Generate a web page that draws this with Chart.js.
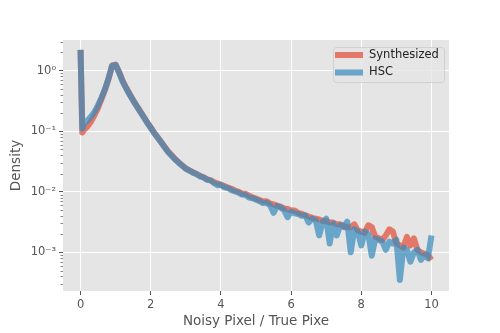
<!DOCTYPE html>
<html>
<head>
<meta charset="utf-8">
<script src="https://cdn.jsdelivr.net/npm/chart.js@4"></script>
<style>
  html, body { margin: 0; background: #fff; }
</style>
</head>
<body>
<canvas id="chart" width="500" height="333"></canvas>
<script>
// Bin centres (Noisy Pixel / True Pixel)
const xValues = [
  0.0, 0.05, 0.1, 0.2, 0.3, 0.4, 0.5, 0.6, 0.7, 0.8, 0.9,
  1.0, 1.1, 1.2, 1.3, 1.4, 1.5, 1.6, 1.7, 1.8, 1.9,
  2.0, 2.1, 2.2, 2.3, 2.4, 2.5, 2.6, 2.7, 2.8, 2.9,
  3.0, 3.1, 3.2, 3.3, 3.4, 3.5, 3.6, 3.7, 3.8, 3.9,
  4.0, 4.1, 4.2, 4.3, 4.4, 4.5, 4.6, 4.7, 4.8, 4.9,
  5.0, 5.1, 5.2, 5.3, 5.4, 5.5, 5.6, 5.7, 5.8, 5.9,
  6.0, 6.1, 6.2, 6.3, 6.4, 6.5, 6.6, 6.7, 6.8, 6.9,
  7.0, 7.1, 7.2, 7.3, 7.4, 7.5, 7.6, 7.7, 7.8, 7.9,
  8.0, 8.1, 8.2, 8.3, 8.4, 8.5, 8.6, 8.7, 8.8, 8.9,
  9.0, 9.1, 9.2, 9.3, 9.4, 9.5, 9.6, 9.7, 9.8, 9.9,
  10.0
];

const synthesized = [
  2.2, 0.095, 0.105, 0.12, 0.145, 0.185, 0.245, 0.345, 0.49, 0.74, 1.2,
  1.26, 0.95, 0.68, 0.52, 0.41, 0.325, 0.262, 0.212, 0.172, 0.14,
  0.115, 0.094, 0.079, 0.066, 0.055, 0.046, 0.040, 0.0345, 0.0305, 0.0272,
  0.0243, 0.0226, 0.0210, 0.0198, 0.0184, 0.0175, 0.0162, 0.0155, 0.0144, 0.0138,
  0.0130, 0.0124, 0.0117, 0.0112, 0.0105, 0.0100, 0.0094, 0.0093, 0.0086, 0.0081,
  0.0077, 0.0073, 0.0069, 0.0070, 0.0064, 0.0062, 0.0059, 0.0057, 0.0053, 0.0052,
  0.0049, 0.0049, 0.0045, 0.0043, 0.0041, 0.0039, 0.0037, 0.0036, 0.0035, 0.0033,
  0.0033, 0.0031, 0.0031, 0.0029, 0.0029, 0.0027, 0.0026, 0.0026, 0.0029, 0.0023,
  0.0022, 0.0021, 0.0028, 0.0026, 0.0018, 0.0017, 0.0016, 0.0019, 0.0024, 0.0022,
  0.0014, 0.0013, 0.0012, 0.0018, 0.0013, 0.0017, 0.0011, 0.0010, 0.00095, 0.0009,
  0.00075
];

const hsc = [
  2.2, 0.11, 0.135, 0.15, 0.175, 0.21, 0.27, 0.36, 0.50, 0.75, 1.22,
  1.24, 0.92, 0.66, 0.51, 0.40, 0.32, 0.26, 0.21, 0.17, 0.138,
  0.114, 0.093, 0.078, 0.065, 0.054, 0.045, 0.039, 0.034, 0.030, 0.0268,
  0.0240, 0.0224, 0.0207, 0.0196, 0.0180, 0.0172, 0.0158, 0.0154, 0.0140, 0.0128,
  0.0130, 0.0118, 0.0116, 0.0106, 0.0101, 0.0097, 0.0090, 0.0088, 0.0080, 0.0078,
  0.0074, 0.0070, 0.0065, 0.0066, 0.0060, 0.0045, 0.0058, 0.0055, 0.0050, 0.0038,
  0.0047, 0.0044, 0.0043, 0.0040, 0.0041, 0.0031, 0.0036, 0.0034, 0.0019, 0.0032,
  0.0036, 0.0014, 0.0030, 0.0019, 0.0028, 0.0026, 0.0032, 0.0010, 0.0024, 0.0022,
  0.0013, 0.0022, 0.0020, 0.00088, 0.0017, 0.0016, 0.0015, 0.0011, 0.0015, 0.0014,
  0.0016, 0.00035, 0.0012, 0.0011, 0.0007, 0.0010, 0.0011, 0.00075, 0.0009, 0.0008,
  0.0019
];

const xTicks = [0, 2, 4, 6, 8, 10];
const yTicks = [1e-3, 1e-2, 1e-1, 1];
const yTickLabels = ['10⁻³', '10⁻²', '10⁻¹', '10⁰'];
const seriesNames = ['Synthesized', 'HSC'];

const FONT = 'DejaVu Sans';
const RED = 'rgba(226, 74, 51, 0.7)';
const BLUE = 'rgba(52, 138, 189, 0.7)';

// gray panel behind the grid
const panelBg = {
  id: 'panelBg',
  beforeDraw(chart) {
    const { ctx, chartArea: a } = chart;
    ctx.save();
    ctx.fillStyle = '#E5E5E5';
    ctx.fillRect(a.left, a.top, a.right - a.left, a.bottom - a.top);
    ctx.restore();
  }
};

// small log minor ticks on the y axis
const minorTicks = {
  id: 'minorTicks',
  afterDraw(chart) {
    const y = chart.scales.y;
    const ctx = chart.ctx;
    const left = chart.chartArea.left;
    ctx.save();
    ctx.strokeStyle = '#555';
    ctx.lineWidth = 0.7;
    for (let d = -4; d <= 0; d++) {
      for (let k = 2; k <= 9; k++) {
        const v = k * Math.pow(10, d);
        if (v < y.min || v > y.max) continue;
        const p = Math.round(y.getPixelForValue(v)) + 0.5;
        ctx.beginPath();
        ctx.moveTo(left - 2.5, p);
        ctx.lineTo(left, p);
        ctx.stroke();
      }
    }
    ctx.restore();
  }
};

// matplotlib-style legend in the upper right of the panel
const insetLegend = {
  id: 'insetLegend',
  afterDraw(chart) {
    const { ctx, chartArea: a } = chart;
    const w = 111, h = 35;
    const x0 = a.right - 5 - w, y0 = a.top + 7;
    ctx.save();
    ctx.fillStyle = 'rgba(229, 229, 229, 0.8)';
    ctx.strokeStyle = 'rgba(204, 204, 204, 0.8)';
    ctx.lineWidth = 1;
    ctx.beginPath();
    ctx.roundRect(x0 + 0.5, y0 + 0.5, w, h, 3);
    ctx.fill();
    ctx.stroke();
    const colors = [RED, BLUE];
    ctx.font = '11.5px "' + FONT + '"';
    ctx.textBaseline = 'middle';
    seriesNames.forEach((name, i) => {
      const ry = y0 + 8 + i * 17.5;
      ctx.strokeStyle = colors[i];
      ctx.lineWidth = 6;
      ctx.beginPath();
      ctx.moveTo(x0 + 2, ry);
      ctx.lineTo(x0 + 30, ry);
      ctx.stroke();
      ctx.fillStyle = '#222';
      ctx.fillText(name, x0 + 36, ry);
    });
    ctx.restore();
  }
};

new Chart(document.getElementById('chart'), {
  type: 'line',
  data: {
    datasets: [
      {
        label: seriesNames[1],
        data: xValues.map((x, i) => ({ x: x, y: hsc[i] })),
        borderColor: BLUE,
        borderWidth: 6,
        pointRadius: 0,
        tension: 0,
        borderJoinStyle: 'round'
      },
      {
        label: seriesNames[0],
        data: xValues.map((x, i) => ({ x: x, y: synthesized[i] })),
        borderColor: RED,
        borderWidth: 6,
        pointRadius: 0,
        tension: 0,
        borderJoinStyle: 'round'
      }
    ]
  },
  options: {
    responsive: false,
    animation: false,
    events: [],
    layout: { padding: { top: 40, right: 51, left: 0, bottom: 0 } },
    plugins: {
      legend: { display: false },
      tooltip: { enabled: false }
    },
    scales: {
      x: {
        type: 'linear',
        min: -0.5,
        max: 10.5,
        afterBuildTicks: s => { s.ticks = xTicks.map(v => ({ value: v })); },
        afterFit: s => { s.height = 42; },
        grid: { color: '#fff', lineWidth: 1, tickLength: 4, tickColor: '#555' },
        border: { display: false },
        ticks: { color: '#555', font: { family: FONT, size: 11.5 }, padding: 3, maxRotation: 0 },
        title: {
          display: true,
          text: 'Noisy Pixel / True Pixe',
          color: '#555',
          font: { family: FONT, size: 13.5 },
          padding: { top: 0, bottom: 3 }
        }
      },
      y: {
        type: 'logarithmic',
        min: 2.3e-4,
        max: 3.2,
        afterBuildTicks: s => { s.ticks = yTicks.map(v => ({ value: v })); },
        afterFit: s => { s.width = 63; },
        grid: { color: '#fff', lineWidth: 1, tickLength: 4, tickColor: '#555' },
        border: { display: false },
        ticks: {
          color: '#555',
          font: { family: FONT, size: 11.5 },
          padding: 3,
          callback: v => {
            const i = yTicks.indexOf(v);
            return i >= 0 ? yTickLabels[i] : '';
          }
        },
        title: {
          display: true,
          text: 'Density',
          color: '#555',
          font: { family: FONT, size: 13.5 },
          padding: { top: 8, bottom: 0 }
        }
      }
    }
  },
  plugins: [panelBg, minorTicks, insetLegend]
});
</script>
</body>
</html>
